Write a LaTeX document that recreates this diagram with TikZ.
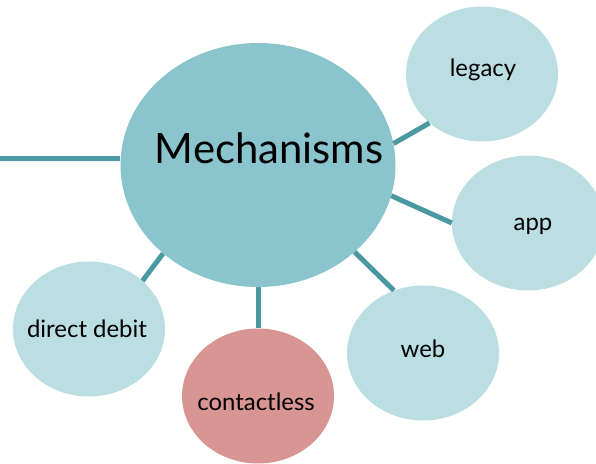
\documentclass[tikz,border=0pt]{standalone}
\usepackage{fontspec}
\setmainfont{Lato}
\usetikzlibrary{shapes.geometric}
\definecolor{mainfill}{RGB}{138,196,204}
\definecolor{leaffill}{RGB}{186,222,226}
\definecolor{pinkfill}{RGB}{217,149,148}
\definecolor{linkcol}{RGB}{74,153,162}
\begin{document}
\begin{tikzpicture}[x=1bp,y=-1bp,
  bubble/.style={ellipse, draw=none, inner sep=0pt},
  leaf/.style={bubble, fill=leaffill, minimum width=152bp, minimum height=135bp},
  link/.style={draw=linkcol, line width=5bp},
  lab/.style={font=\fontsize{24}{28}\selectfont, text=black},
]
\useasboundingbox (0,0) rectangle (596,464);
\clip (0,0) rectangle (596,464);
\node[bubble, fill=mainfill, minimum width=275bp, minimum height=244bp,
  label={[font=\fontsize{42}{48}\selectfont, xshift=11bp, yshift=17bp]center:Mechanisms}] (main) at (258,165) {};
\node[leaf, label={[lab, xshift=1bp, yshift=4bp]center:legacy}] (legacy) at (482,74) {};
\node[leaf, label={[lab, xshift=5bp, yshift=-3bp]center:app}] (app) at (528,223) {};
\node[leaf, label={[lab, yshift=4bp]center:web}] (web) at (423,353) {};
\node[bubble, fill=pinkfill, minimum width=152bp, minimum height=135bp,
  label={[lab, xshift=-2bp, yshift=-6bp]center:contactless}] (contactless) at (258,396) {};
\node[leaf, label={[lab, xshift=-2bp]center:direct debit}] (direct) at (89,329) {};
\coordinate (left) at (0,159);
\draw[link] (left) -- (left -| main.west);
\draw[link] (main.9) -- (legacy.223);
\draw[link] (main.-13) -- (app.180);
\draw[link] (main.-42) -- (web.115);
\draw[link] (main.-90) -- (contactless.90);
\draw[link] (main.-137) -- (direct.42);
\end{tikzpicture}
\end{document}
